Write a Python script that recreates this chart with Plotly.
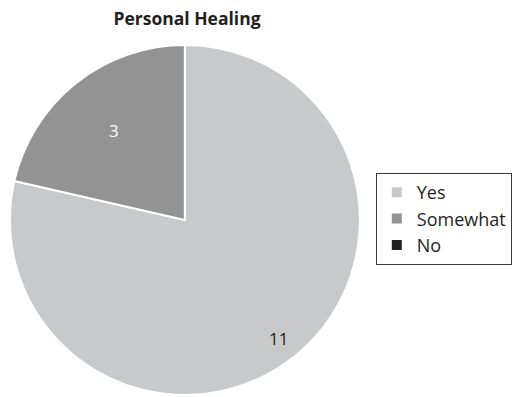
import math
import plotly.graph_objects as go

# Survey responses for "Personal Healing"
labels = ["Yes", "Somewhat", "No"]
counts = [11, 3, 0]
slice_colors = ["#c8c9ca", "#939393", "#231f20"]
text_colors = ["#231f20", "#ffffff", "#ffffff"]
label_radius = [0.86, 0.65, 0.5]  # fraction of the radius where each count sits

W, H = 512, 397
px0, px1 = 10, 362   # pie domain, pixels
py0, py1 = 44, 396

fig = go.Figure(
    go.Pie(
        labels=labels,
        values=counts,
        sort=False,
        direction="clockwise",
        rotation=0,
        marker=dict(colors=slice_colors, line=dict(color="#ffffff", width=2)),
        textinfo="none",
        domain=dict(x=[px0 / W, px1 / W], y=[1 - py1 / H, 1 - py0 / H]),
        showlegend=True,
        hoverinfo="label+value",
    )
)

# Count labels placed along each slice's mid-angle
cx, cy = (px0 + px1) / 2, (py0 + py1) / 2
r = (px1 - px0) / 2
total = sum(counts)
start = 0.0
for lab, v, col, f in zip(labels, counts, text_colors, label_radius):
    if v > 0:
        mid = (start + v / 2) / total * 2 * math.pi
        x = cx + f * r * math.sin(mid)
        y = cy - f * r * math.cos(mid)
        fig.add_annotation(
            x=x / W, y=1 - y / H, xref="paper", yref="paper",
            xanchor="center", yanchor="middle",
            text=str(v), showarrow=False,
            font=dict(family="Open Sans, sans-serif", size=17, color=col),
        )
    start += v

fig.update_layout(
    width=W,
    height=H,
    margin=dict(l=0, r=0, t=0, b=0),
    paper_bgcolor="#ffffff",
    plot_bgcolor="#ffffff",
    font=dict(family="Open Sans, sans-serif", color="#231f20"),
    title=dict(
        text="<b>Personal Healing</b>",
        x=187 / W,
        xanchor="center",
        y=1 - 19 / H,
        yanchor="middle",
        font=dict(size=17.5, color="#231f20"),
    ),
    legend=dict(
        x=378 / W,
        xanchor="left",
        y=1 - 173 / H,
        yanchor="top",
        bordercolor="#3a3a3a",
        borderwidth=1,
        font=dict(size=18, color="#231f20"),
        itemwidth=30,
    ),
)

fig.write_html("out.html")
